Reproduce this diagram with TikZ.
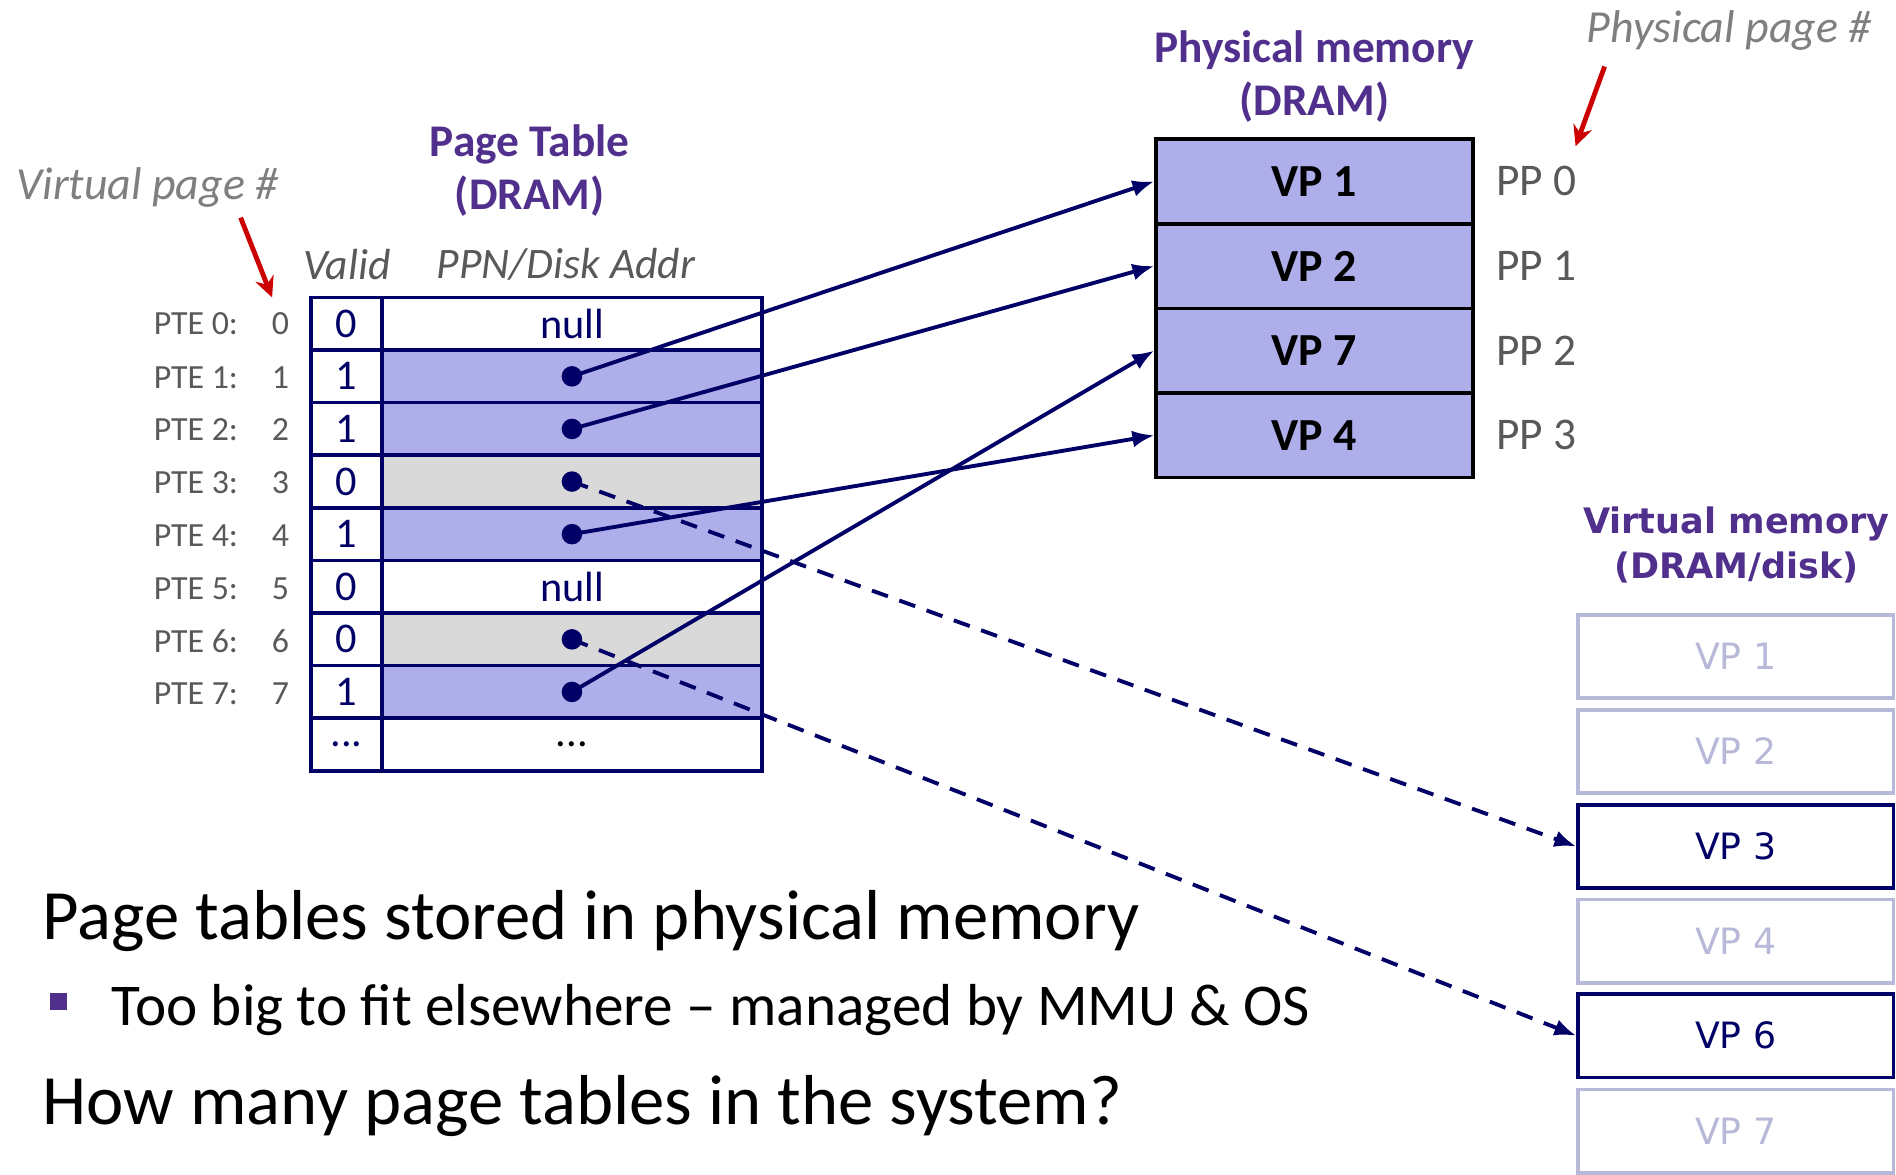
\documentclass[tikz,border=0pt]{standalone}
\usepackage{fontspec}
\setmainfont{Carlito}
\newfontfamily\verd{DejaVu Sans}
\usetikzlibrary{arrows.meta}
\definecolor{navy}{HTML}{000066}
\definecolor{lav}{HTML}{AEAEEB}
\definecolor{cellgray}{HTML}{D9D9D9}
\definecolor{ttlpurple}{HTML}{50308C}
\definecolor{faded}{HTML}{B8B8D8}
\definecolor{redarr}{HTML}{CC0000}
\definecolor{hintgray}{HTML}{7F7F7F}
\definecolor{lblgray}{HTML}{595959}
\tikzset{
  vcell/.style={draw=navy, line width=3pt, fill=white, minimum width=59pt, minimum height=43.5pt,
    inner sep=0pt, text=navy, font=\fontsize{35}{35}\selectfont},
  pcell/.style={vcell, minimum width=314pt},
  dot/.style={circle, fill=navy, minimum size=17pt, inner sep=0pt},
  pm/.style={draw=black, line width=3pt, fill=lav, minimum width=262pt, minimum height=70pt,
    inner sep=0pt, font=\bfseries\fontsize{38}{38}\selectfont},
  vmoff/.style={draw=faded, line width=3pt, text=faded, minimum width=261pt, minimum height=69pt,
    inner sep=0pt, font=\verd\fontsize{30}{30}\selectfont},
  vmon/.style={vmoff, draw=navy, text=navy},
  ttl/.style={align=center, inner sep=0pt, text=ttlpurple, font=\bfseries\fontsize{37.5}{44}\selectfont},
  hint/.style={inner sep=0pt, text=hintgray, font=\itshape\fontsize{38}{38}\selectfont},
  colhead/.style={inner sep=0pt, text=lblgray, font=\itshape\fontsize{36}{36}\selectfont},
  pte/.style={inner sep=0pt, text=lblgray, font=\fontsize{28}{28}\selectfont},
  ppl/.style={inner sep=0pt, text=lblgray, font=\fontsize{37.5}{37.5}\selectfont, anchor=west},
  body/.style={inner sep=0pt, anchor=base west, font=\fontsize{58.5}{58.5}\selectfont},
  sub/.style={inner sep=0pt, anchor=base west, font=\fontsize{49}{49}\selectfont},
  ptr/.style={navy, line width=3.2pt, -{Latex[length=18pt,width=14pt]}},
  dptr/.style={ptr, dash pattern=on 14pt off 10pt},
  redptr/.style={redarr, line width=4pt, -{Stealth[length=17pt,width=16pt]}}
}
\begin{document}
\begin{tikzpicture}[x=1pt,y=1pt]
\useasboundingbox (0,0) rectangle (1568,-971);
% \draw[help lines] (0,0) grid[step=100] (1568,-971);
% headings
\node[ttl] (pthead) at (438,-141) {Page Table\\(DRAM)};
\node[ttl] (pmhead) at (1087,-63) {Physical memory\\(DRAM)};
\node[ttl, font=\verd\bfseries\fontsize{29}{37}\selectfont] (vmhead) at (1436,-451) {Virtual memory\\(DRAM/disk)};
\node[hint] (vpnhint) at (122,-155) {Virtual page \#};
\node[hint] (ppnhint) at (1430,-25) {Physical page \#};
\node[colhead] (validh) at (287,-219) {Valid};
\node[colhead] (addrh) at (468,-219) {PPN/Disk Addr};
\coordinate (vpntail) at (199,-180); \coordinate (vpntip) at (225,-246);
\coordinate (ppntail) at (1327,-55); \coordinate (ppntip) at (1303,-121);
\draw[redptr] (vpntail) -- (vpntip);
\draw[redptr] (ppntail) -- (ppntip);
% page table
\node[vcell] (v0) at (286.5,-267.75) {0}; \node[pcell] (p0) at (473,-267.75) {null};
\node[vcell] (v1) at (286.5,-311.25) {1}; \node[pcell, fill=lav] (p1) at (473,-311.25) {};
\node[vcell] (v2) at (286.5,-354.75) {1}; \node[pcell, fill=lav] (p2) at (473,-354.75) {};
\node[vcell] (v3) at (286.5,-398.25) {0}; \node[pcell, fill=cellgray] (p3) at (473,-398.25) {};
\node[vcell] (v4) at (286.5,-441.75) {1}; \node[pcell, fill=lav] (p4) at (473,-441.75) {};
\node[vcell] (v5) at (286.5,-485.25) {0}; \node[pcell] (p5) at (473,-485.25) {null};
\node[vcell] (v6) at (286.5,-528.75) {0}; \node[pcell, fill=cellgray] (p6) at (473,-528.75) {};
\node[vcell] (v7) at (286.5,-572.25) {1}; \node[pcell, fill=lav] (p7) at (473,-572.25) {};
\node[vcell] (v8) at (286.5,-615.75) {...}; \node[pcell, text=black] (p8) at (473,-615.75) {...};
\node[pte, anchor=west] (pte0) at (127,-268) {PTE 0:}; \node[pte] (n0) at (232,-268) {0};
\node[pte, anchor=west] (pte1) at (127,-312) {PTE 1:}; \node[pte] (n1) at (232,-312) {1};
\node[pte, anchor=west] (pte2) at (127,-355) {PTE 2:}; \node[pte] (n2) at (232,-355) {2};
\node[pte, anchor=west] (pte3) at (127,-399) {PTE 3:}; \node[pte] (n3) at (232,-399) {3};
\node[pte, anchor=west] (pte4) at (127,-443) {PTE 4:}; \node[pte] (n4) at (232,-443) {4};
\node[pte, anchor=west] (pte5) at (127,-487) {PTE 5:}; \node[pte] (n5) at (232,-487) {5};
\node[pte, anchor=west] (pte6) at (127,-530) {PTE 6:}; \node[pte] (n6) at (232,-530) {6};
\node[pte, anchor=west] (pte7) at (127,-574) {PTE 7:}; \node[pte] (n7) at (232,-574) {7};
\node[dot] (d1) at (p1) {}; \node[dot] (d2) at (p2) {}; \node[dot] (d3) at (p3) {};
\node[dot] (d4) at (p4) {}; \node[dot] (d6) at (p6) {}; \node[dot] (d7) at (p7) {};
% physical memory
\node[pm] (m0) at (1087,-150) {VP 1}; \node[ppl] (pp0) at (1237,-150) {PP 0};
\node[pm] (m1) at (1087,-220) {VP 2}; \node[ppl] (pp1) at (1237,-220) {PP 1};
\node[pm] (m2) at (1087,-290) {VP 7}; \node[ppl] (pp2) at (1237,-290) {PP 2};
\node[pm] (m3) at (1087,-360) {VP 4}; \node[ppl] (pp3) at (1237,-360) {PP 3};
% virtual memory
\node[vmoff] (vm1) at (1435.5,-543) {VP 1};
\node[vmoff] (vm2) at (1435.5,-621.5) {VP 2};
\node[vmon] (vm3) at (1435.5,-700) {VP 3};
\node[vmoff] (vm4) at (1435.5,-778.5) {VP 4};
\node[vmon] (vm6) at (1435.5,-856.5) {VP 6};
\node[vmoff] (vm7) at (1435.5,-935.5) {VP 7};
% pointers
\draw[ptr] (d1.center) -- (m0.west);
\draw[ptr] (d2.center) -- (m1.west);
\draw[ptr] (d7.center) -- (m2.west);
\draw[ptr] (d4.center) -- (m3.west);
\draw[dptr] (d3.center) -- (vm3.west);
\draw[dptr] (d6.center) -- (vm6.west);
% text below
\node[body] (line1) at (35,-777) {Page tables stored in physical memory};
\node[fill=ttlpurple, minimum size=14pt, inner sep=0pt] (bul) at (48,-828) {};
\node[sub] (line2) at (92,-848) {Too big to fit elsewhere – managed by MMU \& OS};
\node[body] (line3) at (35,-930) {How many page tables in the system?};
\end{tikzpicture}
\end{document}
